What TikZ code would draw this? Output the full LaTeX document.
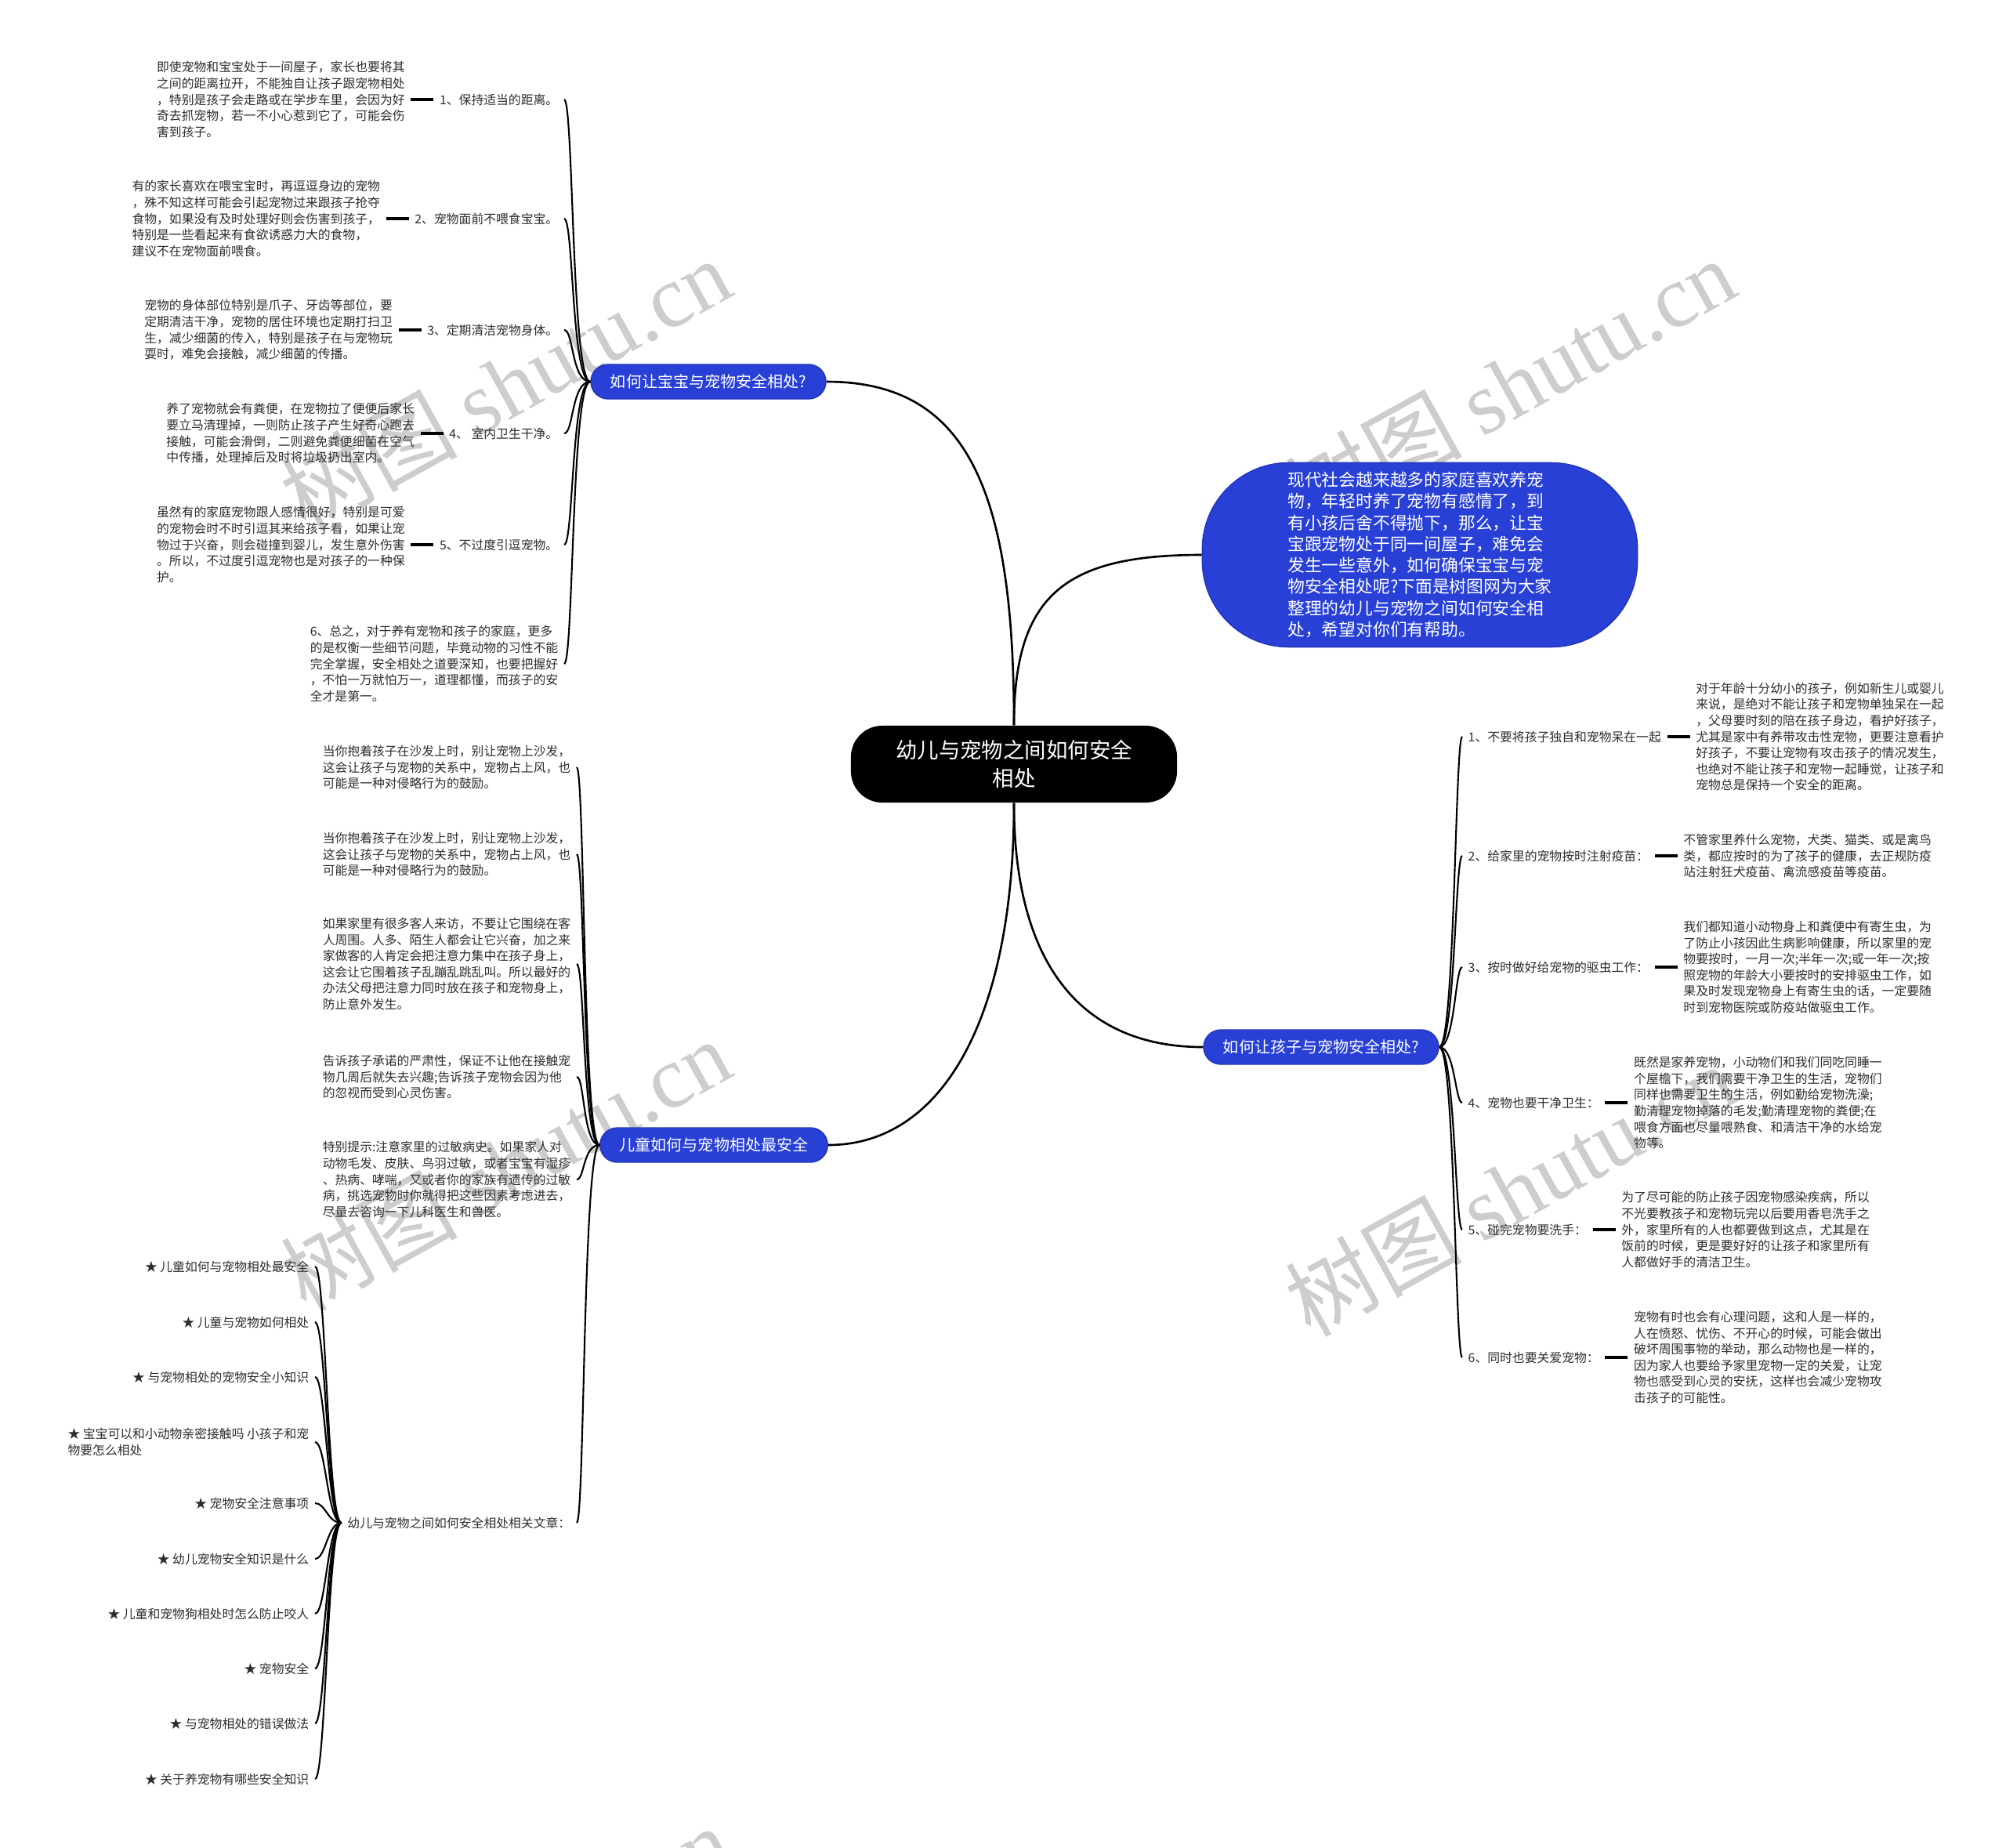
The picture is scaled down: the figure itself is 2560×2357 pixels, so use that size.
\documentclass[tikz,border=0pt]{standalone}
\usepackage{fontspec}
\setmainfont{Noto Sans CJK SC}
\newfontfamily\markfont{Liberation Serif}
\usepackage{tikz}
\usetikzlibrary{positioning}
\definecolor{pillblue}{RGB}{40, 64, 214}
\definecolor{inktext}{RGB}{45, 45, 45}
\definecolor{markgray}{RGB}{205, 205, 205}

\begin{document}
\begin{tikzpicture}[
    x=0.01cm, y=-0.01cm,
    root/.style={rectangle, rounded corners=0.4cm, fill=black, text=white, minimum width=4.16cm, minimum height=0.98cm, align=center, font={\fontsize{7.8pt}{10.2pt}\selectfont}},
    intro/.style={rectangle, rounded corners=1.1cm, fill=pillblue, draw=pillblue!85!black, text=white, minimum width=5.55cm, minimum height=2.35cm, align=left, font={\fontsize{6.2pt}{7.75pt}\selectfont}},
    topic/.style={rectangle, rounded corners=0.22cm, fill=pillblue, draw=pillblue!85!black, text=white, minimum height=0.44cm, inner xsep=0.25cm, font={\fontsize{5.7pt}{6.8pt}\selectfont}},
    tip/.style={inner sep=0.07cm, text=inktext, font={\fontsize{4.5pt}{5.86pt}\selectfont}},
    note/.style={tip, align=left},
    wmark/.style={text=markgray, rotate=29, font={\fontsize{32pt}{32pt}\selectfont}},
    link/.style={line width=0.75pt},
    twig/.style={line width=0.6pt},
    stub/.style={line width=1pt}
  ]

  \path[use as bounding box, fill=white] (0,0) rectangle (2560,2357);

  % watermarks
  \begin{scope}
    \clip (0,0) rectangle (2560,2357);
    \node[wmark] (wm1) at (645,490) {树图 {\markfont shutu.cn}};
    \node[wmark] (wm2) at (1927,490) {树图 {\markfont shutu.cn}};
    \node[wmark] (wm3) at (645,1486) {树图 {\markfont shutu.cn}};
    \node[wmark] (wm4) at (1927,1518) {树图 {\markfont shutu.cn}};
    \node[wmark] (wm5) at (645,2490) {树图 {\markfont shutu.cn}};
    \node[wmark] (wm6) at (1927,2515) {树图 {\markfont shutu.cn}};
  \end{scope}

  \node[root] (root) at (1294,975) {幼儿与宠物之间如何安全\\相处};
  \node[intro] (intro) at (1812,708) {现代社会越来越多的家庭喜欢养宠\\物，年轻时养了宠物有感情了，到\\有小孩后舍不得抛下，那么，让宝\\宝跟宠物处于同一间屋子，难免会\\发生一些意外，如何确保宝宝与宠\\物安全相处呢?下面是树图网为大家\\整理的幼儿与宠物之间如何安全相\\处，希望对你们有帮助。};
  \node[topic] (b1) at (904,487) {如何让宝宝与宠物安全相处?};
  \node[topic] (b3) at (1686,1336) {如何让孩子与宠物安全相处?};
  \node[topic] (b4) at (911,1461) {儿童如何与宠物相处最安全};

  % safety with baby
  \node[tip, anchor=east] (lab1) at (720,127) {1、保持适当的距离。};
  \node[tip, anchor=east] (lab2) at (720,279) {2、宠物面前不喂食宝宝。};
  \node[tip, anchor=east] (lab3) at (720,421) {3、定期清洁宠物身体。};
  \node[tip, anchor=east] (lab4) at (720,553) {4、 室内卫生干净。};
  \node[tip, anchor=east] (lab5) at (720,695) {5、不过度引逗宠物。};
  \node[note, anchor=east] (sum6) at (720,847) {6、总之，对于养有宠物和孩子的家庭，更多\\的是权衡一些细节问题，毕竟动物的习性不能\\完全掌握，安全相处之道要深知，也要把握好\\，不怕一万就怕万一，道理都懂，而孩子的安\\全才是第一。};

  \node[note, left=0.29cm of lab1] (txt1) {即使宠物和宝宝处于一间屋子，家长也要将其\\之间的距离拉开，不能独自让孩子跟宠物相处\\，特别是孩子会走路或在学步车里，会因为好\\奇去抓宠物，若一不小心惹到它了，可能会伤\\害到孩子。};
  \node[note, left=0.29cm of lab2] (txt2) {有的家长喜欢在喂宝宝时，再逗逗身边的宠物\\，殊不知这样可能会引起宠物过来跟孩子抢夺\\食物，如果没有及时处理好则会伤害到孩子，\\特别是一些看起来有食欲诱惑力大的食物，\\建议不在宠物面前喂食。};
  \node[note, left=0.29cm of lab3] (txt3) {宠物的身体部位特别是爪子、牙齿等部位，要\\定期清洁干净，宠物的居住环境也定期打扫卫\\生，减少细菌的传入，特别是孩子在与宠物玩\\耍时，难免会接触，减少细菌的传播。};
  \node[note, left=0.29cm of lab4] (txt4) {养了宠物就会有粪便，在宠物拉了便便后家长\\要立马清理掉，一则防止孩子产生好奇心跑去\\接触，可能会滑倒，二则避免粪便细菌在空气\\中传播，处理掉后及时将垃圾扔出室内。};
  \node[note, left=0.29cm of lab5] (txt5) {虽然有的家庭宠物跟人感情很好，特别是可爱\\的宠物会时不时引逗其来给孩子看，如果让宠\\物过于兴奋，则会碰撞到婴儿，发生意外伤害\\。所以，不过度引逗宠物也是对孩子的一种保\\护。};

  % safety with children
  \node[tip, anchor=west] (rlab1) at (1866,940) {1、不要将孩子独自和宠物呆在一起};
  \node[tip, anchor=west] (rlab2) at (1866,1092) {2、给家里的宠物按时注射疫苗：};
  \node[tip, anchor=west] (rlab3) at (1866,1234) {3、按时做好给宠物的驱虫工作：};
  \node[tip, anchor=west] (rlab4) at (1866,1407) {4、宠物也要干净卫生：};
  \node[tip, anchor=west] (rlab5) at (1866,1569) {5、碰完宠物要洗手：};
  \node[tip, anchor=west] (rlab6) at (1866,1732) {6、同时也要关爱宠物：};

  \node[note, right=0.29cm of rlab1] (rtxt1) {对于年龄十分幼小的孩子，例如新生儿或婴儿\\来说，是绝对不能让孩子和宠物单独呆在一起\\，父母要时刻的陪在孩子身边，看护好孩子，\\尤其是家中有养带攻击性宠物，更要注意看护\\好孩子，不要让宠物有攻击孩子的情况发生，\\也绝对不能让孩子和宠物一起睡觉，让孩子和\\宠物总是保持一个安全的距离。};
  \node[note, right=0.29cm of rlab2] (rtxt2) {不管家里养什么宠物，犬类、猫类、或是禽鸟\\类，都应按时的为了孩子的健康，去正规防疫\\站注射狂犬疫苗、禽流感疫苗等疫苗。};
  \node[note, right=0.29cm of rlab3] (rtxt3) {我们都知道小动物身上和粪便中有寄生虫，为\\了防止小孩因此生病影响健康，所以家里的宠\\物要按时，一月一次;半年一次;或一年一次;按\\照宠物的年龄大小要按时的安排驱虫工作，如\\果及时发现宠物身上有寄生虫的话，一定要随\\时到宠物医院或防疫站做驱虫工作。};
  \node[note, right=0.29cm of rlab4] (rtxt4) {既然是家养宠物，小动物们和我们同吃同睡一\\个屋檐下，我们需要干净卫生的生活，宠物们\\同样也需要卫生的生活，例如勤给宠物洗澡;\\勤清理宠物掉落的毛发;勤清理宠物的粪便;在\\喂食方面也尽量喂熟食、和清洁干净的水给宠\\物等。};
  \node[note, right=0.29cm of rlab5] (rtxt5) {为了尽可能的防止孩子因宠物感染疾病，所以\\不光要教孩子和宠物玩完以后要用香皂洗手之\\外，家里所有的人也都要做到这点，尤其是在\\饭前的时候，更是要好好的让孩子和家里所有\\人都做好手的清洁卫生。};
  \node[note, right=0.29cm of rlab6] (rtxt6) {宠物有时也会有心理问题，这和人是一样的，\\人在愤怒、忧伤、不开心的时候，可能会做出\\破坏周围事物的举动，那么动物也是一样的，\\因为家人也要给予家里宠物一定的关爱，让宠\\物也感受到心灵的安抚，这样也会减少宠物攻\\击孩子的可能性。};

  % children and pets
  \node[note, anchor=east] (kid1) at (736,979) {当你抱着孩子在沙发上时，别让宠物上沙发，\\这会让孩子与宠物的关系中，宠物占上风，也\\可能是一种对侵略行为的鼓励。};
  \node[note, anchor=east] (kid2) at (736,1090) {当你抱着孩子在沙发上时，别让宠物上沙发，\\这会让孩子与宠物的关系中，宠物占上风，也\\可能是一种对侵略行为的鼓励。};
  \node[note, anchor=east] (kid3) at (736,1230) {如果家里有很多客人来访，不要让它围绕在客\\人周围。人多、陌生人都会让它兴奋，加之来\\家做客的人肯定会把注意力集中在孩子身上，\\这会让它围着孩子乱蹦乱跳乱叫。所以最好的\\办法父母把注意力同时放在孩子和宠物身上，\\防止意外发生。};
  \node[note, anchor=east] (kid4) at (736,1374) {告诉孩子承诺的严肃性，保证不让他在接触宠\\物几周后就失去兴趣;告诉孩子宠物会因为他\\的忽视而受到心灵伤害。};
  \node[note, anchor=east] (kid5) at (736,1505) {特别提示:注意家里的过敏病史。如果家人对\\动物毛发、皮肤、鸟羽过敏，或者宝宝有湿疹\\、热病、哮喘，又或者你的家族有遗传的过敏\\病，挑选宠物时你就得把这些因素考虑进去，\\尽量去咨询一下儿科医生和兽医。};
  \node[tip, anchor=east] (rel) at (736,1943) {幼儿与宠物之间如何安全相处相关文章：};

  % related articles
  \node[tip, anchor=east] (s1) at (402,1616) {★ 儿童如何与宠物相处最安全};
  \node[tip, anchor=east] (s2) at (402,1687) {★ 儿童与宠物如何相处};
  \node[tip, anchor=east] (s3) at (402,1757) {★ 与宠物相处的宠物安全小知识};
  \node[note, anchor=east] (s4) at (402,1840) {★ 宝宝可以和小动物亲密接触吗 小孩子和宠\\物要怎么相处};
  \node[tip, anchor=east] (s5) at (402,1918) {★ 宠物安全注意事项};
  \node[tip, anchor=east] (s6) at (402,1989) {★ 幼儿宠物安全知识是什么};
  \node[tip, anchor=east] (s7) at (402,2059) {★ 儿童和宠物狗相处时怎么防止咬人};
  \node[tip, anchor=east] (s8) at (402,2129) {★ 宠物安全};
  \node[tip, anchor=east] (s9) at (402,2199) {★ 与宠物相处的错误做法};
  \node[tip, anchor=east] (s10) at (402,2270) {★ 关于养宠物有哪些安全知识};

  % main branches
  \draw[link] (root.north) .. controls +(0,-300) and +(180,0) .. (b1.east);
  \draw[link] (root.north) .. controls +(0,-166) and +(-175,0) .. (intro.west);
  \draw[link] (root.south) .. controls +(0,206) and +(-155,0) .. (b3.west);
  \draw[link] (root.south) .. controls +(0,276) and +(145,0) .. (b4.east);

  \foreach \c in {lab1, lab2, lab3, lab4, lab5, sum6} {
    \draw[twig] (b1.west) .. controls +(-24,0) and +(12,0) .. (\c.east);
  }
  \foreach \c in {rlab1, rlab2, rlab3, rlab4, rlab5, rlab6} {
    \draw[twig] (b3.east) .. controls +(20,0) and +(-9,0) .. (\c.west);
  }
  \foreach \c in {kid1, kid2, kid3, kid4, kid5, rel} {
    \draw[twig] (b4.west) .. controls +(-21,0) and +(10,0) .. (\c.east);
  }
  \foreach \c in {s1, s2, s3, s4, s5, s6, s7, s8, s9, s10} {
    \draw[twig] (rel.west) .. controls +(-18,0) and +(14,0) .. (\c.east);
  }
  \foreach \a/\b in {lab1/txt1, lab2/txt2, lab3/txt3, lab4/txt4, lab5/txt5} {
    \draw[stub] (\a.west) -- (\b.east);
  }
  \foreach \a/\b in {rlab1/rtxt1, rlab2/rtxt2, rlab3/rtxt3, rlab4/rtxt4, rlab5/rtxt5, rlab6/rtxt6} {
    \draw[stub] (\a.east) -- (\b.west);
  }

\end{tikzpicture}
\end{document}
